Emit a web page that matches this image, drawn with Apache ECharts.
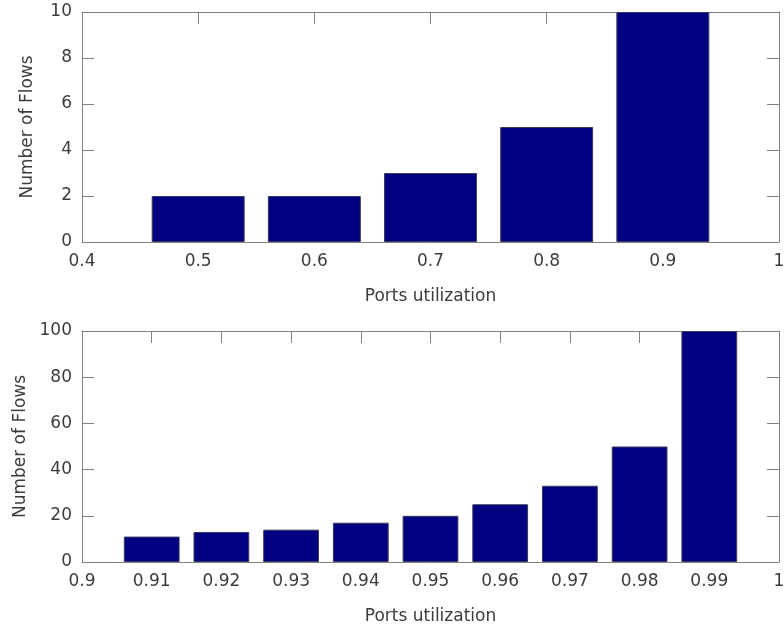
<!DOCTYPE html>
<html>
<head>
<meta charset="utf-8">
<script src="https://cdn.jsdelivr.net/npm/echarts@6/dist/echarts.min.js"></script>
<style>
  html, body { margin: 0; padding: 0; background: #fff; }
  #chart { width: 784px; height: 628px; }
</style>
</head>
<body>
<div id="chart"></div>
<script>
// Top panel data
const topUtil = [0.5, 0.6, 0.7, 0.8, 0.9];
const topFlows = [2, 2, 3, 5, 10];
// Bottom panel data
const botUtil = [0.91, 0.92, 0.93, 0.94, 0.95, 0.96, 0.97, 0.98, 0.99];
const botFlows = [11, 13, 14, 17, 20, 25, 33, 50, 100];

const xName = 'Ports utilization';
const yName = 'Number of Flows';

const FONT = 'DejaVu Sans';
const TXT = '#3c3c3c';
const LINE = '#808080';

function xAx(grid, pos, min, max, interval, showLabel) {
  return {
    type: 'value', gridIndex: grid, position: pos, min: min, max: max, interval: interval,
    name: showLabel ? xName : '', nameLocation: 'middle', nameGap: 46,
    nameTextStyle: { fontFamily: FONT, fontSize: 17, color: TXT },
    axisLine: { show: true, onZero: false, lineStyle: { color: LINE, width: 1 } },
    axisTick: { show: true, inside: true, length: 12, lineStyle: { color: LINE } },
    axisLabel: { show: showLabel, fontFamily: FONT, fontSize: 17, color: TXT, margin: 11 },
    splitLine: { show: false }
  };
}
function yAx(grid, pos, max, interval, showLabel) {
  return {
    type: 'value', gridIndex: grid, position: pos, min: 0, max: max, interval: interval,
    name: showLabel ? yName : '', nameLocation: 'middle', nameGap: 46,
    nameTextStyle: { fontFamily: FONT, fontSize: 17, color: TXT },
    axisLine: { show: true, onZero: false, lineStyle: { color: LINE, width: 1 } },
    axisTick: { show: true, inside: true, length: 12, lineStyle: { color: LINE } },
    axisLabel: { show: showLabel, fontFamily: FONT, fontSize: 17, color: TXT, margin: 10 },
    splitLine: { show: false }
  };
}

const chart = echarts.init(document.getElementById('chart'), null, { renderer: 'canvas' });
chart.setOption({
  animation: false,
  backgroundColor: '#ffffff',
  grid: [
    { left: 82, right: 5, top: 12, height: 230, outerBoundsMode: 'none', containLabel: false },
    { left: 82, right: 5, top: 331, height: 231, outerBoundsMode: 'none', containLabel: false }
  ],
  xAxis: [
    xAx(0, 'bottom', 0.4, 1, 0.1, true),
    xAx(0, 'top', 0.4, 1, 0.1, false),
    xAx(1, 'bottom', 0.9, 1, 0.01, true),
    xAx(1, 'top', 0.9, 1, 0.01, false)
  ],
  yAxis: [
    yAx(0, 'left', 10, 2, true),
    yAx(0, 'right', 10, 2, false),
    yAx(1, 'left', 100, 20, true),
    yAx(1, 'right', 100, 20, false)
  ],
  series: [
    {
      type: 'bar', xAxisIndex: 0, yAxisIndex: 0, barWidth: '80%',
      data: topUtil.map((u, i) => [u, topFlows[i]]),
      itemStyle: { color: '#000080', borderColor: '#3a3a5e', borderWidth: 1 }
    },
    {
      type: 'bar', xAxisIndex: 2, yAxisIndex: 2, barWidth: '80%',
      data: botUtil.map((u, i) => [u, botFlows[i]]),
      itemStyle: { color: '#000080', borderColor: '#3a3a5e', borderWidth: 1 }
    }
  ]
});
</script>
</body>
</html>
